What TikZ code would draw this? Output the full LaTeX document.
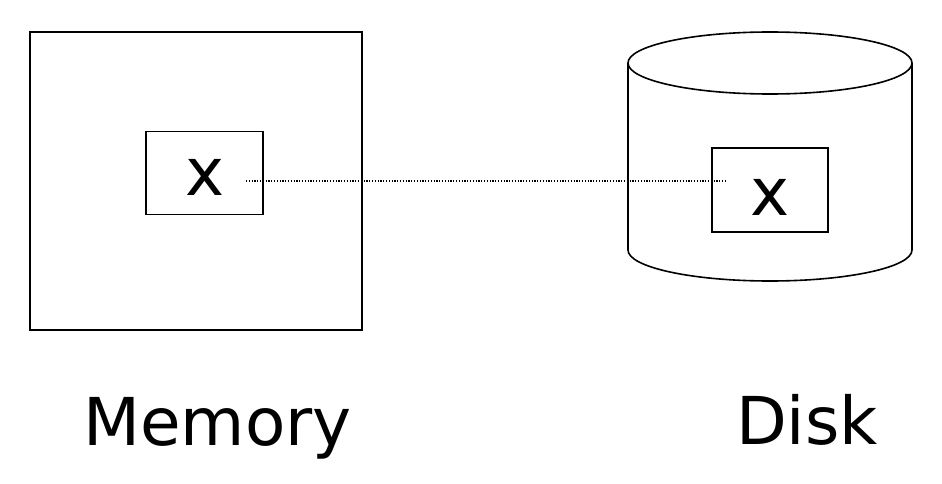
\documentclass[tikz,border=0pt]{standalone}
\usepackage{fontspec}
\setmainfont{DejaVu Sans}
\begin{document}
\begin{tikzpicture}[x=1pt,y=-1pt,
  box/.style={draw,line width=1.6pt,inner sep=0pt},
  cyl/.style={line width=1.6pt},
  lbl/.style={font=\fontsize{66}{80}\selectfont,anchor=base,inner sep=0pt},
  xl/.style={font=\fontsize{66}{72}\selectfont,anchor=base,inner sep=0pt},
  link/.style={line width=1.2pt,dash pattern=on 1.2pt off 1.6pt}]
\useasboundingbox (0,0) rectangle (942,484);
% Memory
\node[box,minimum width=332pt,minimum height=298pt] (mem) at (196,181) {};
\node[box,minimum width=117pt,minimum height=83pt] (mbox) at (204.5,173) {};
\node[xl] (mx) at (205,195) {x};
\node[lbl] (memlbl) at (217.5,445) {Memory};
% Disk cylinder
\draw[cyl] (628,63) -- (628,250) arc[start angle=180,end angle=0,x radius=142,y radius=31] -- (912,63);
\draw[cyl] (770,63) ellipse[x radius=142,y radius=31];
\node[box,minimum width=116pt,minimum height=84pt] (dbox) at (770,190) {};
\node[xl] (dx) at (770,215) {x};
\node[lbl] (disklbl) at (807,444) {Disk};
% link
\coordinate (a) at (246,181);
\coordinate (b) at (726,181);
\draw[link] (a) -- (b);
\end{tikzpicture}
\end{document}
